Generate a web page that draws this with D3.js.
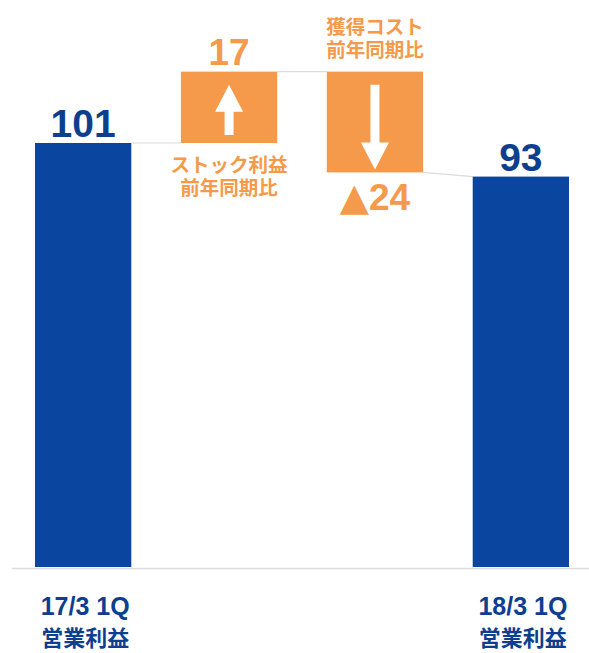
<!DOCTYPE html>
<html>
<head>
<meta charset="utf-8">
<script src="https://cdn.jsdelivr.net/npm/d3@7"></script>
<style>
  body { margin: 0; background: #fff; }
  text { font-family: "Liberation Sans", Arial, "Noto Sans CJK JP", sans-serif; font-weight: bold; }
  .jp { font-family: "Noto Sans CJK JP", sans-serif; font-weight: bold; }
</style>
</head>
<body>
<script>
/* Data */

var STEPS   = ["start", "stock", "cost", "end"];
var DELTAS  = [101, 17, -24, 93];
var KINDS   = ["total", "delta", "delta", "total"];
var LABELS  = ["101", "17", "24", "93"];
var NOTES   = [[], ["ストック利益", "前年同期比"], ["獲得コスト", "前年同期比"], []];
var XLABELS = [["17/3 1Q", "営業利益"], [], [], ["18/3 1Q", "営業利益"]];

/* Measures */

var W = 589,
    H = 653;

var BLUE       = "#0a46a0",
    BLUE_TEXT  = "#0e3f8e",
    ORANGE     = "#f5994a",
    LINE_GREY  = "#dcdcdc";

var PLOT = { left: 35, right: 569, top: 0, bottom: 567 };

var svg = d3.select("body").append("svg")
    .attr("width", W)
    .attr("height", H);

var x = d3.scaleBand()
    .domain(STEPS)
    .range([PLOT.left, PLOT.right])
    .paddingInner(0.34)
    .paddingOuter(0);

var y = d3.scaleLinear()
    .domain([0, 101])
    .range([PLOT.bottom, 143]);

// running totals
var rows = [], run = 0;
STEPS.forEach(function(s, i) {
	var from, to;
	if (KINDS[i] === "total") { from = 0; to = DELTAS[i]; run = DELTAS[i]; }
	else { from = run; to = run + DELTAS[i]; run = to; }
	rows.push({ key: s, from: from, to: to, kind: KINDS[i], label: LABELS[i],
	            note: NOTES[i], xl: XLABELS[i], d: DELTAS[i] });
});

// axis line
svg.append("line")
	.attr("x1", 12).attr("x2", W)
	.attr("y1", PLOT.bottom + 1.5).attr("y2", PLOT.bottom + 1.5)
	.attr("stroke", LINE_GREY).attr("stroke-width", 1.5);

// connectors
for (var i = 0; i < rows.length - 1; i++) {
	var a = rows[i], b = rows[i + 1];
	var yb = b.kind === "total" ? b.to : b.from;
	svg.append("line")
		.attr("x1", x(a.key) + x.bandwidth()).attr("y1", y(a.to))
		.attr("x2", x(b.key)).attr("y2", y(yb))
		.attr("stroke", LINE_GREY).attr("stroke-width", 1.2);
}

// bars
svg.selectAll("rect.bar")
	.data(rows)
	.enter().append("rect")
	.attr("class", "bar")
	.attr("x", function(d) { return x(d.key); })
	.attr("width", x.bandwidth())
	.attr("y", function(d) { return y(Math.max(d.from, d.to)); })
	.attr("height", function(d) { return Math.abs(y(d.from) - y(d.to)); })
	.attr("fill", function(d) { return d.kind === "total" ? BLUE : ORANGE; });

// arrows inside delta bars
rows.filter(function(d) { return d.kind === "delta"; }).forEach(function(d) {
	var cx = x(d.key) + x.bandwidth() / 2;
	var top = y(Math.max(d.from, d.to)), bot = y(Math.min(d.from, d.to));
	var up = d.d > 0;
	var tip = up ? top + 13 : bot - 3,
	    tail = up ? bot - 8 : top + 13,
	    head = 27, hw = 14, sw = 4.5;
	var dir = up ? 1 : -1;
	var pts = [
		[cx, tip],
		[cx + hw, tip + dir * head],
		[cx + sw, tip + dir * head],
		[cx + sw, tail],
		[cx - sw, tail],
		[cx - sw, tip + dir * head],
		[cx - hw, tip + dir * head]
	];
	svg.append("polygon")
		.attr("points", pts.map(function(p) { return p.join(","); }).join(" "))
		.attr("fill", "#fff");
});

// value labels
var vals = svg.selectAll("text.val")
	.data(rows)
	.enter().append("text")
	.attr("class", "val")
	.attr("text-anchor", "middle")
	.attr("x", function(d) { return x(d.key) + x.bandwidth() / 2; })
	.attr("y", function(d) {
		if (d.kind === "total") return y(d.to) - 6;
		return d.d > 0 ? y(d.to) - 7 : y(d.to) + 38;
	})
	.attr("fill", function(d) { return d.kind === "total" ? BLUE_TEXT : ORANGE; })
	.style("font-size", function(d) { return d.kind === "total" ? "39px" : "37px"; });

vals.filter(function(d) { return d.d < 0; })
	.append("tspan")
	.style("font-family", "'DejaVu Sans', sans-serif")
	.style("font-size", "38px")
	.text("▲");
vals.append("tspan")
	.text(function(d) { return d.label; });

// notes on delta bars (two lines in one text)
rows.forEach(function(d) {
	if (!d.note.length) return;
	var cx = x(d.key) + x.bandwidth() / 2;
	var y0 = d.d > 0 ? y(d.from) + 29 : y(d.from) - 38;
	var t = svg.append("text")
		.attr("class", "jp")
		.attr("text-anchor", "middle")
		.attr("y", y0)
		.attr("fill", ORANGE)
		.style("font-size", "19.5px");
	d.note.forEach(function(s, k) {
		t.append("tspan")
			.attr("x", cx)
			.attr("dy", k === 0 ? 0 : 23)
			.text(s);
	});
});

// category labels
rows.forEach(function(d) {
	if (!d.xl.length) return;
	var cx = x(d.key) + x.bandwidth() / 2 + 2;
	svg.append("text")
		.attr("text-anchor", "middle")
		.attr("x", cx).attr("y", 615)
		.attr("fill", BLUE_TEXT)
		.style("font-size", "25px")
		.text(d.xl[0]);
	svg.append("text")
		.attr("class", "jp")
		.attr("text-anchor", "middle")
		.attr("x", cx).attr("y", 646)
		.attr("fill", BLUE_TEXT)
		.style("font-size", "22px")
		.text(d.xl[1]);
});
</script>
</body>
</html>
